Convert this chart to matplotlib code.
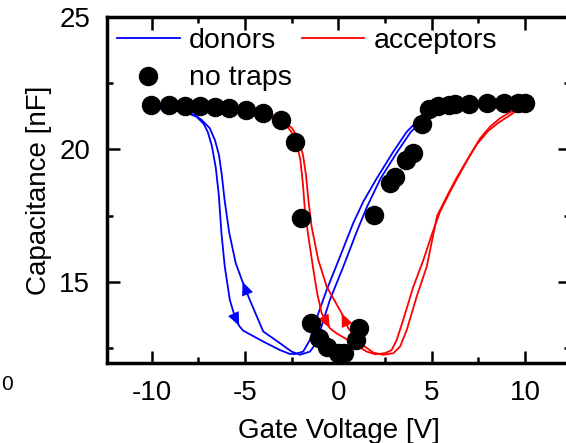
import matplotlib
matplotlib.use("Agg")
import matplotlib.pyplot as plt
from matplotlib.ticker import MultipleLocator

plt.rcParams['font.family'] = ['Liberation Sans', 'DejaVu Sans']
plt.rcParams['axes.unicode_minus'] = False

# measured C-V points, no traps
v_notraps = [-10.05, -9.09, -8.24, -7.43, -6.63, -5.88, -4.97, -4.06, -3.10, -2.35,
             -2.03, -1.46, -1.02, -0.61, -0.04, 0.28, 0.95, 1.09, 1.93, 2.76,
             3.05, 3.62, 4.01, 4.47, 4.87, 5.35, 5.94, 6.26, 7.0, 7.93, 8.84, 9.59, 9.98]
c_notraps = [21.68, 21.66, 21.64, 21.63, 21.62, 21.55, 21.50, 21.38, 21.11, 20.29,
             17.41, 13.46, 12.90, 12.55, 12.30, 12.32, 12.80, 13.25, 17.51, 18.74,
             18.95, 19.62, 19.87, 20.95, 21.52, 21.64, 21.68, 21.70, 21.73, 21.74, 21.74, 21.77, 21.77]

# donors, sweep up
v_don_up = [-10.05, -9.04, -8.23, -7.59, -7.21, -7.0, -6.78, -6.57, -6.41, -6.27, -6.09,
            -5.82, -5.55, -5.32, -5.10, -4.03, -3.14, -2.60, -2.33, -1.89, -1.53, -1.26,
            -0.63, 0.08, 0.79, 1.33, 2.05, 2.94, 3.66, 4.28, 4.64, 5.01, 5.98, 7.59, 10.0]
c_don_up = [21.57, 21.49, 21.42, 21.23, 20.96, 20.66, 20.13, 19.30, 18.28, 16.85, 15.58,
            14.32, 13.69, 13.34, 13.16, 12.75, 12.43, 12.28, 12.28, 12.37, 12.81, 13.45,
            14.70, 15.95, 17.22, 18.03, 18.91, 19.92, 20.67, 21.11, 21.33, 21.49, 21.60, 21.68, 21.72]
# donors, sweep back
v_don_dn = [10.0, 7.59, 5.98, 5.17, 4.80, 4.48, 3.87, 3.15, 2.26, 1.53, 0.98, 0.26,
            -0.46, -1.08, -1.31, -1.53, -2.06, -2.51, -3.14, -4.03, -4.75, -5.14, -5.50,
            -5.85, -6.10, -6.25, -6.40, -6.62, -6.90, -7.32, -7.69, -8.23, -9.04, -10.05]
c_don_dn = [21.72, 21.68, 21.58, 21.47, 21.30, 21.08, 20.66, 19.91, 18.91, 17.84, 16.90, 15.58,
            14.32, 12.94, 12.58, 12.37, 12.25, 12.37, 12.69, 13.13, 14.32, 15.01, 15.70,
            16.85, 18.09, 19.04, 19.79, 20.36, 20.81, 21.11, 21.30, 21.42, 21.53, 21.64]

# acceptors, sweep up
v_acc_up = [-10.05, -6.63, -4.96, -4.05, -3.40, -2.87, -2.49, -2.22, -2.04, -1.90, -1.80,
            -1.64, -1.37, -1.14, -0.90, -0.46, -0.10, 0.79, 1.51, 1.96, 2.49, 2.85, 3.12,
            3.47, 4.01, 4.55, 4.99, 5.44, 5.98, 6.51, 7.05, 7.59, 8.12, 8.66, 9.10, 9.56, 10.0]
c_acc_up = [21.64, 21.58, 21.47, 21.36, 21.23, 21.0, 20.62, 20.17, 19.60, 18.66, 17.72,
            16.85, 15.58, 14.57, 13.82, 13.25, 13.06, 12.69, 12.37, 12.27, 12.31, 12.43, 12.81,
            13.57, 14.82, 15.83, 16.77, 17.65, 18.41, 19.10, 19.79, 20.42, 20.86, 21.18, 21.37, 21.53, 21.68]
# acceptors, sweep back
v_acc_dn = [10.0, 9.52, 9.09, 8.55, 8.02, 7.43, 6.89, 6.35, 5.82, 5.28, 4.91, 4.73, 4.19,
            3.66, 3.30, 2.94, 2.40, 1.87, 1.15, 0.53, 0.17, -0.63, -1.08, -1.44, -1.61,
            -1.74, -1.90, -2.12, -2.49, -2.98, -4.05, -6.63, -10.05]
c_acc_dn = [21.68, 21.45, 21.25, 21.0, 20.70, 20.21, 19.60, 18.96, 18.25, 17.49, 16.21, 15.58, 14.45,
            13.19, 12.56, 12.31, 12.25, 12.33, 12.69, 13.25, 13.82, 14.82, 15.83, 17.09, 18.09,
            19.04, 19.79, 20.36, 20.81, 21.08, 21.36, 21.58, 21.64]

fig = plt.figure(figsize=(5.66, 4.43), dpi=100)
ax = fig.add_axes([0.189, 0.1806, 0.818, 0.781])

ax.plot(v_don_up, c_don_up, color='#0000ff', lw=1.3, label='donors', zorder=2)
ax.plot(v_don_dn, c_don_dn, color='#0000ff', lw=1.3, zorder=2)
ax.plot(v_acc_up, c_acc_up, color='#ff0000', lw=1.3, label='acceptors', zorder=2)
ax.plot(v_acc_dn, c_acc_dn, color='#ff0000', lw=1.3, zorder=2)
ax.plot(v_notraps, c_notraps, 'o', color='black', ms=13, label='no traps', zorder=3)


def arrow(vs, cs, i, col):
    ax.annotate('', xy=(vs[i], cs[i]), xytext=(vs[i - 1], cs[i - 1]),
                arrowprops=dict(arrowstyle='-|>,head_length=0.7,head_width=0.3',
                                color=col, lw=0, shrinkA=0, shrinkB=0,
                                mutation_scale=14), zorder=2)


arrow(v_don_up, c_don_up, 13, '#0000ff')
arrow(v_don_dn, c_don_dn, 21, '#0000ff')
arrow(v_acc_up, c_acc_up, 15, '#ff0000')
arrow(v_acc_dn, c_acc_dn, 20, '#ff0000')

ax.set_xlim(-12.4, 12.4)
ax.set_ylim(11.94, 25)
ax.xaxis.set_major_locator(MultipleLocator(5))
ax.xaxis.set_minor_locator(MultipleLocator(2.5))
ax.yaxis.set_major_locator(MultipleLocator(5))
ax.yaxis.set_minor_locator(MultipleLocator(2.5))
ax.tick_params(which='both', direction='in', top=True, right=True, width=1.8, labelsize=20)
ax.tick_params(which='major', length=9, pad=12)
ax.tick_params(which='minor', length=4.5)
for s in ax.spines.values():
    s.set_linewidth(2.5)

ax.set_xlabel('Gate Voltage [V]', fontsize=20, labelpad=9)
ax.set_ylabel('Capacitance [nF]', fontsize=20, labelpad=5)

h, l = ax.get_legend_handles_labels()
ax.legend([h[0], h[2], h[1]], [l[0], l[2], l[1]], ncol=2, loc='upper left',
          bbox_to_anchor=(0.0216, 0.968), frameon=False, fontsize=20.5, borderpad=0,
          handlelength=2.2, handletextpad=0.32, columnspacing=0.35, labelspacing=0.4,
          numpoints=1, borderaxespad=0)

fig.text(0.002, 0.131, '0', fontsize=15, ha='left', va='center')

fig.savefig('out.png', dpi=100)
